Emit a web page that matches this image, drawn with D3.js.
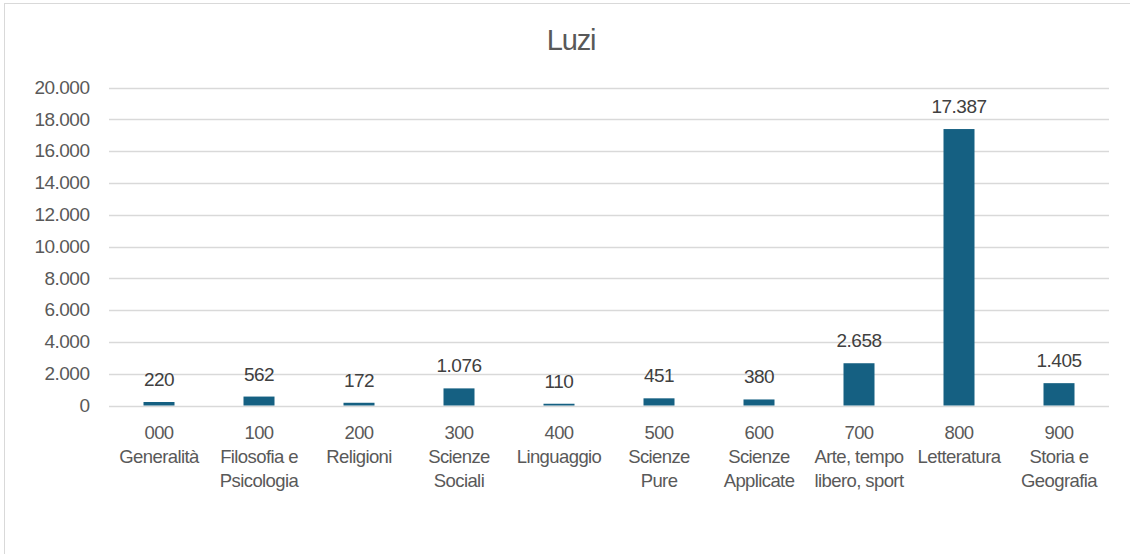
<!DOCTYPE html>
<html>
<head>
<meta charset="utf-8">
<script src="https://cdn.jsdelivr.net/npm/d3@7"></script>
<style>
  body { margin: 0; background: #fff; }
  svg { display: block; font-family: "Liberation Sans", Arial, sans-serif; }
</style>
</head>
<body>
<svg id="chart"></svg>
<script>
var width = 1130;
var height = 554;

// data
var categories = [
  '000\nGeneralità',
  '100\nFilosofia e\nPsicologia',
  '200\nReligioni',
  '300\nScienze\nSociali',
  '400\nLinguaggio',
  '500\nScienze\nPure',
  '600\nScienze\nApplicate',
  '700\nArte, tempo\nlibero, sport',
  '800\nLetteratura',
  '900\nStoria e\nGeografia'
];
var values = [220, 562, 172, 1076, 110, 451, 380, 2658, 17387, 1405];
var yTicks = [0, 2000, 4000, 6000, 8000, 10000, 12000, 14000, 16000, 18000, 20000];
var title = 'Luzi';

var margin = { top: 87.5, right: 21, bottom: 148.5, left: 109 };

var svg = d3.select('#chart')
  .attr('width', width)
  .attr('height', height);

// chart frame
svg.append('rect')
  .attr('x', 4.5).attr('y', 3.5)
  .attr('width', 1200).attr('height', 700)
  .attr('fill', '#fff')
  .attr('stroke', '#d9d9d9')
  .attr('stroke-width', 1);

var x = d3.scaleBand()
  .domain(categories)
  .range([margin.left, width - margin.right])
  .paddingInner(0.69)
  .paddingOuter(0.345);

var y = d3.scaleLinear()
  .domain([0, 20000])
  .range([height - margin.bottom, margin.top]);

var fmt = function(v) {
  return d3.format(',')(v).replace(/,/g, '.');
};

// gridlines
svg.append('g')
  .selectAll('line')
  .data(yTicks)
  .join('line')
  .attr('x1', margin.left)
  .attr('x2', width - margin.right)
  .attr('y1', function(d) { return Math.round(y(d)) + 0.5; })
  .attr('y2', function(d) { return Math.round(y(d)) + 0.5; })
  .attr('stroke', '#d9d9d9')
  .attr('stroke-width', 1.3);

// y axis labels
var yAxis = svg.append('g')
  .attr('transform', 'translate(' + (margin.left - 19.5) + ',0)')
  .call(d3.axisLeft(y).tickValues(yTicks).tickFormat(fmt).tickSize(0).tickPadding(0));
yAxis.select('.domain').remove();
yAxis.selectAll('text')
  .attr('fill', '#595959')
  .style('font-size', '19px')
  .style('letter-spacing', '-0.5px')
  .attr('dy', '0.3em');

// bars
svg.append('g')
  .selectAll('rect')
  .data(values)
  .join('rect')
  .attr('x', function(d, i) { return x(categories[i]); })
  .attr('y', function(d) { return y(d); })
  .attr('width', x.bandwidth())
  .attr('height', function(d) { return y(0) - y(d); })
  .attr('fill', '#156082');

// data labels
svg.append('g')
  .selectAll('text')
  .data(values)
  .join('text')
  .attr('x', function(d, i) { return x(categories[i]) + x.bandwidth() / 2; })
  .attr('y', function(d) { return y(d) - 16; })
  .attr('text-anchor', 'middle')
  .attr('fill', '#404040')
  .style('font-size', '19px')
  .style('letter-spacing', '-0.5px')
  .text(fmt);

// category labels
var cat = svg.append('g')
  .selectAll('text')
  .data(categories)
  .join('text')
  .attr('x', function(d) { return x(d) + x.bandwidth() / 2; })
  .attr('y', 438.5)
  .attr('text-anchor', 'middle')
  .attr('fill', '#595959')
  .style('font-size', '18.5px')
  .style('letter-spacing', '-0.6px');
cat.selectAll('tspan')
  .data(function(d) { return d.split('\n'); })
  .join('tspan')
  .attr('x', function() { return d3.select(this.parentNode).attr('x'); })
  .attr('dy', function(d, i) { return i === 0 ? 0 : 24.3; })
  .text(function(d) { return d; });

// title
svg.append('text')
  .attr('x', 571)
  .attr('y', 50)
  .attr('text-anchor', 'middle')
  .attr('fill', '#595959')
  .style('font-size', '29px')
  .style('letter-spacing', '-1.2px')
  .text(title);
</script>
</body>
</html>
